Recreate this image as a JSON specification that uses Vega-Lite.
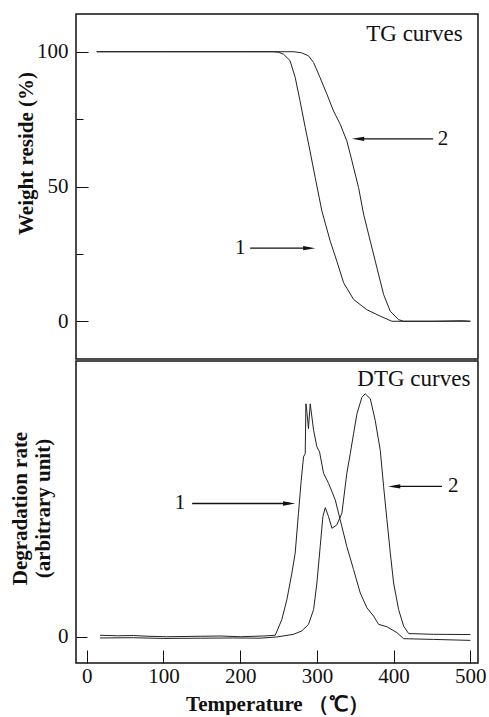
{
  "$schema": "https://vega.github.io/schema/vega-lite/v6.json",
  "padding": {"left": 8, "top": 13, "right": 0, "bottom": 0},
  "spacing": 0,
  "config": {
    "font": "Liberation Serif",
    "view": {"stroke": "#111", "strokeWidth": 1.5},
    "axis": {"grid": false, "domain": false, "labelFont": "Liberation Serif", "titleFont": "Liberation Serif", "labelColor": "#111", "titleColor": "#111", "tickColor": "#111", "labelFontSize": 21, "titleFontSize": 21, "titleFontWeight": "bold"}
  },
  "datasets": {
    "tg": [
      {"s": "1", "t": 13, "w": 100}, {"s": "1", "t": 100, "w": 100}, {"s": "1", "t": 200, "w": 100}, {"s": "1", "t": 243, "w": 100}, {"s": "1", "t": 250, "w": 99.8}, {"s": "1", "t": 256.5, "w": 99.1}, {"s": "1", "t": 265, "w": 96.7}, {"s": "1", "t": 271.7, "w": 90.5}, {"s": "1", "t": 278, "w": 81.8}, {"s": "1", "t": 284.8, "w": 71.9}, {"s": "1", "t": 291, "w": 63.2}, {"s": "1", "t": 297.8, "w": 53.3}, {"s": "1", "t": 306.5, "w": 40.9}, {"s": "1", "t": 317.4, "w": 29.7}, {"s": "1", "t": 326, "w": 22.3}, {"s": "1", "t": 334.8, "w": 14.3}, {"s": "1", "t": 347.8, "w": 8.1}, {"s": "1", "t": 365, "w": 4.3}, {"s": "1", "t": 382.6, "w": 1.9}, {"s": "1", "t": 397.8, "w": 0}, {"s": "1", "t": 450, "w": 0}, {"s": "1", "t": 490, "w": 0.2}, {"s": "1", "t": 500, "w": 0},
      {"s": "2", "t": 13, "w": 100}, {"s": "2", "t": 200, "w": 100}, {"s": "2", "t": 270, "w": 100}, {"s": "2", "t": 280, "w": 99.6}, {"s": "2", "t": 289, "w": 98.5}, {"s": "2", "t": 295.7, "w": 96}, {"s": "2", "t": 304, "w": 90.5}, {"s": "2", "t": 313, "w": 84.3}, {"s": "2", "t": 321.7, "w": 78}, {"s": "2", "t": 330.4, "w": 73.1}, {"s": "2", "t": 339, "w": 66.9}, {"s": "2", "t": 345.7, "w": 59.5}, {"s": "2", "t": 354.3, "w": 49.6}, {"s": "2", "t": 360.9, "w": 39.7}, {"s": "2", "t": 369.6, "w": 29.7}, {"s": "2", "t": 378.3, "w": 19.8}, {"s": "2", "t": 387, "w": 9.9}, {"s": "2", "t": 395.7, "w": 3.7}, {"s": "2", "t": 406.5, "w": 0.6}, {"s": "2", "t": 413, "w": 0}, {"s": "2", "t": 500, "w": 0}
    ],
    "dtg": [
      {"s": "1", "t": 17.4, "r": 0.7}, {"s": "1", "t": 40, "r": 0.5}, {"s": "1", "t": 60.9, "r": 0.6}, {"s": "1", "t": 80, "r": 0.3}, {"s": "1", "t": 104, "r": 0.1}, {"s": "1", "t": 147.8, "r": 0.3}, {"s": "1", "t": 175, "r": 0.4}, {"s": "1", "t": 200, "r": 0.1}, {"s": "1", "t": 230.4, "r": 0.4}, {"s": "1", "t": 245.7, "r": 0.7}, {"s": "1", "t": 254.3, "r": 7.2}, {"s": "1", "t": 260.9, "r": 15.4}, {"s": "1", "t": 267.4, "r": 26.3}, {"s": "1", "t": 271.7, "r": 34.5}, {"s": "1", "t": 276, "r": 50.9}, {"s": "1", "t": 279.6, "r": 64.5}, {"s": "1", "t": 282.6, "r": 74.1}, {"s": "1", "t": 284.8, "r": 75.4}, {"s": "1", "t": 285.7, "r": 95.9}, {"s": "1", "t": 287, "r": 92.5}, {"s": "1", "t": 289, "r": 85.7}, {"s": "1", "t": 291.3, "r": 95.9}, {"s": "1", "t": 295.7, "r": 85}, {"s": "1", "t": 300, "r": 78.2}, {"s": "1", "t": 303.5, "r": 76.1}, {"s": "1", "t": 308.7, "r": 67.3}, {"s": "1", "t": 315.2, "r": 63.2}, {"s": "1", "t": 319.6, "r": 59.8}, {"s": "1", "t": 324, "r": 56.3}, {"s": "1", "t": 330.4, "r": 48.2}, {"s": "1", "t": 339, "r": 37.2}, {"s": "1", "t": 347.8, "r": 27.7}, {"s": "1", "t": 356.5, "r": 18.1}, {"s": "1", "t": 365.2, "r": 12}, {"s": "1", "t": 373.9, "r": 8.6}, {"s": "1", "t": 380.4, "r": 5.2}, {"s": "1", "t": 391.3, "r": 4.2}, {"s": "1", "t": 404.3, "r": 1.8}, {"s": "1", "t": 413, "r": -0.7}, {"s": "1", "t": 452, "r": -1}, {"s": "1", "t": 500, "r": -1.4},
      {"s": "2", "t": 17.4, "r": -0.4}, {"s": "2", "t": 60.9, "r": -0.3}, {"s": "2", "t": 100, "r": -0.6}, {"s": "2", "t": 147.8, "r": -0.5}, {"s": "2", "t": 190, "r": -0.4}, {"s": "2", "t": 226, "r": -0.5}, {"s": "2", "t": 247.8, "r": 0}, {"s": "2", "t": 269.6, "r": 1.1}, {"s": "2", "t": 280.4, "r": 2.5}, {"s": "2", "t": 289.1, "r": 5.2}, {"s": "2", "t": 295.7, "r": 11.3}, {"s": "2", "t": 300, "r": 22.2}, {"s": "2", "t": 304.3, "r": 37.2}, {"s": "2", "t": 307.8, "r": 49.5}, {"s": "2", "t": 310.9, "r": 53.2}, {"s": "2", "t": 315.2, "r": 49.5}, {"s": "2", "t": 319.6, "r": 44.7}, {"s": "2", "t": 326, "r": 46.1}, {"s": "2", "t": 332.6, "r": 50.9}, {"s": "2", "t": 339, "r": 67.3}, {"s": "2", "t": 343.5, "r": 75.4}, {"s": "2", "t": 347.8, "r": 83.6}, {"s": "2", "t": 352.2, "r": 91.8}, {"s": "2", "t": 358.7, "r": 98.6}, {"s": "2", "t": 363, "r": 100}, {"s": "2", "t": 369.6, "r": 98}, {"s": "2", "t": 376, "r": 89.1}, {"s": "2", "t": 382.6, "r": 76.8}, {"s": "2", "t": 387, "r": 61.8}, {"s": "2", "t": 391.3, "r": 48.2}, {"s": "2", "t": 395.7, "r": 34.5}, {"s": "2", "t": 400, "r": 22.2}, {"s": "2", "t": 406.5, "r": 11.3}, {"s": "2", "t": 413, "r": 4.5}, {"s": "2", "t": 419.6, "r": 1.4}, {"s": "2", "t": 452, "r": 1.1}, {"s": "2", "t": 500, "r": 1}
    ],
    "tgAnn": [
      {"label": "1", "tx": 200, "ty": 27.1, "from": 213, "to": 290, "dir": "right"},
      {"label": "2", "tx": 464.5, "ty": 67.7, "from": 451.5, "to": 353.7, "dir": "left"}
    ],
    "dtgAnn": [
      {"label": "1", "tx": 121.7, "ty": 54.9, "from": 137.4, "to": 263.8, "dir": "right"},
      {"label": "2", "tx": 477.6, "ty": 61.9, "from": 463, "to": 400.7, "dir": "left"}
    ],
    "tgTitle": [{"name": "TG curves", "tx": 490, "ty": 104}],
    "dtgTitle": [{"name": "DTG curves", "tx": 500, "ty": 103.3}]
  },
  "vconcat": [
    {
      "width": 402,
      "height": 345,
      "layer": [
        {
          "data": {"name": "tg"},
          "mark": {"type": "line", "strokeWidth": 1, "color": "#222"},
          "encoding": {
            "x": {"field": "t", "type": "quantitative", "scale": {"domain": [-14, 510], "nice": false, "zero": false}, "axis": null},
            "y": {"field": "w", "type": "quantitative", "scale": {"domain": [-14, 114], "nice": false, "zero": false},
              "axis": {"values": [0, 25, 50, 75, 100], "labelExpr": "datum.value % 50 === 0 ? datum.label : ''", "tickSize": {"condition": {"test": "datum.value % 50 === 0", "value": -12}, "value": -7}, "labelPadding": 20, "title": "Weight reside (%)", "titleX": -40, "titleY": 139}},
            "detail": {"field": "s"}
          }
        },
        {
          "data": {"name": "tgAnn"},
          "mark": {"type": "rule", "strokeWidth": 1.3, "color": "#111"},
          "encoding": {"x": {"field": "from", "type": "quantitative"}, "x2": {"field": "to"}, "y": {"field": "ty", "type": "quantitative"}}
        },
        {
          "data": {"name": "tgAnn"},
          "mark": {"type": "point", "filled": true, "color": "#111", "opacity": 1, "size": 150},
          "encoding": {"x": {"field": "to", "type": "quantitative"}, "y": {"field": "ty", "type": "quantitative"},
            "shape": {"field": "dir", "type": "nominal", "scale": {"domain": ["left", "right"], "range": ["M -1 0 L 1 -0.35 L 1 0.35 Z", "M 1 0 L -1 -0.35 L -1 0.35 Z"]}, "legend": null}}
        },
        {
          "data": {"name": "tgAnn"},
          "mark": {"type": "text", "fontSize": 21, "color": "#111", "align": "center", "baseline": "middle"},
          "encoding": {"x": {"field": "tx", "type": "quantitative"}, "y": {"field": "ty", "type": "quantitative"}, "text": {"field": "label"}}
        },
        {
          "data": {"name": "tgTitle"},
          "mark": {"type": "text", "fontSize": 23, "color": "#111", "align": "right", "baseline": "alphabetic"},
          "encoding": {"x": {"field": "tx", "type": "quantitative"}, "y": {"field": "ty", "type": "quantitative"}, "text": {"field": "name"}}
        }
      ]
    },
    {
      "width": 402,
      "height": 302,
      "layer": [
        {
          "data": {"name": "dtg"},
          "mark": {"type": "line", "strokeWidth": 1, "color": "#222"},
          "encoding": {
            "x": {"field": "t", "type": "quantitative", "scale": {"domain": [-14, 510], "nice": false, "zero": false},
              "axis": {"values": [0, 100, 200, 300, 400, 500], "tickSize": -13, "labelPadding": 15, "title": "Temperature （℃）", "titleY": 30, "titleBaseline": "top", "titleFontSize": 21}},
            "y": {"field": "r", "type": "quantitative", "scale": {"domain": [-10.7, 113.5], "nice": false, "zero": false},
              "axis": {"values": [0], "tickSize": -11, "labelPadding": 19, "title": ["Degradation rate", "(arbitrary unit)"], "titleX": -46, "titleY": 147, "titleLineHeight": 23}},
            "detail": {"field": "s"}
          }
        },
        {
          "data": {"name": "dtgAnn"},
          "mark": {"type": "rule", "strokeWidth": 1.3, "color": "#111"},
          "encoding": {"x": {"field": "from", "type": "quantitative"}, "x2": {"field": "to"}, "y": {"field": "ty", "type": "quantitative"}}
        },
        {
          "data": {"name": "dtgAnn"},
          "mark": {"type": "point", "filled": true, "color": "#111", "opacity": 1, "size": 150},
          "encoding": {"x": {"field": "to", "type": "quantitative"}, "y": {"field": "ty", "type": "quantitative"},
            "shape": {"field": "dir", "type": "nominal", "scale": {"domain": ["left", "right"], "range": ["M -1 0 L 1 -0.35 L 1 0.35 Z", "M 1 0 L -1 -0.35 L -1 0.35 Z"]}, "legend": null}}
        },
        {
          "data": {"name": "dtgAnn"},
          "mark": {"type": "text", "fontSize": 21, "color": "#111", "align": "center", "baseline": "middle"},
          "encoding": {"x": {"field": "tx", "type": "quantitative"}, "y": {"field": "ty", "type": "quantitative"}, "text": {"field": "label"}}
        },
        {
          "data": {"name": "dtgTitle"},
          "mark": {"type": "text", "fontSize": 23, "color": "#111", "align": "right", "baseline": "alphabetic"},
          "encoding": {"x": {"field": "tx", "type": "quantitative"}, "y": {"field": "ty", "type": "quantitative"}, "text": {"field": "name"}}
        }
      ]
    }
  ]
}
